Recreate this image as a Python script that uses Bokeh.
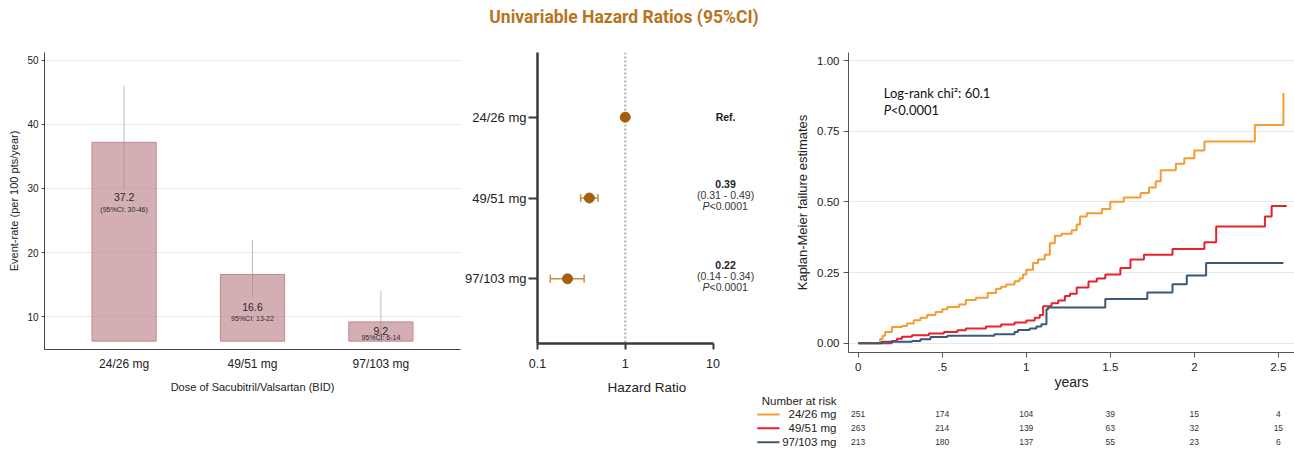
from bokeh.plotting import figure
from bokeh.models import (ColumnDataSource, Div, FactorRange, FixedTicker, Label, LabelSet,
                          NumeralTickFormatter, Range1d, Span, TeeHead, Whisker)
from bokeh.layouts import column, row
from bokeh.core.properties import value
from bokeh.embed import file_html
from bokeh.resources import INLINE

# ---------------- data ----------------
TITLE = "Univariable Hazard Ratios (95%CI)"
doses = ["24/26 mg", "49/51 mg", "97/103 mg"]

# panel A: event rates
event_rate = [37.2, 16.6, 9.2]
rate_ci_lo = [30, 13, 6]
rate_ci_hi = [46, 22, 14]
rate_ci_text = ["(95%CI: 30-46)", "95%CI: 13-22", "95%CI: 6-14"]
rate_ticks = [10, 20, 30, 40, 50]
rate_xlabel = "Dose of Sacubitril/Valsartan (BID)"
rate_ylabel = "Event-rate (per 100 pts/year)"

# panel B: hazard ratios
hr = [1.0, 0.39, 0.22]
hr_text = ["Ref.", "0.39", "0.22"]
hr_lo = [0.31, 0.14]          # for doses[1:]
hr_hi = [0.49, 0.34]
hr_ci_text = ["(0.31 - 0.49)", "(0.14 - 0.34)"]
hr_p_text = ["<0.0001", "<0.0001"]
hr_ticks = [0.1, 1, 10]
hr_tick_labels = ["0.1", "1", "10"]
hr_xlabel = "Hazard Ratio"

# panel C: Kaplan-Meier failure estimates
km_t_2426 = [0, 0.13, 0.145, 0.16, 0.20, 0.26, 0.29, 0.33, 0.37, 0.41, 0.46, 0.50, 0.53,
             0.60, 0.64, 0.70, 0.77, 0.82, 0.85, 0.88, 0.93, 0.96, 0.98, 1.00, 1.04, 1.07,
             1.11, 1.14, 1.17, 1.21, 1.27, 1.30, 1.32, 1.36, 1.45, 1.50, 1.58, 1.68, 1.73,
             1.77, 1.80, 1.89, 1.94, 2.00, 2.06, 2.36, 2.53]
km_f_2426 = [0, 0.015, 0.026, 0.040, 0.057, 0.061, 0.070, 0.081, 0.090, 0.100, 0.110, 0.120,
             0.128, 0.137, 0.153, 0.161, 0.178, 0.193, 0.200, 0.208, 0.219, 0.229, 0.243,
             0.260, 0.284, 0.296, 0.313, 0.354, 0.380, 0.387, 0.400, 0.420, 0.448, 0.460,
             0.475, 0.501, 0.516, 0.532, 0.551, 0.573, 0.612, 0.635, 0.655, 0.682, 0.714,
             0.772, 0.886]
km_t_4951 = [0, 0.20, 0.23, 0.26, 0.32, 0.42, 0.51, 0.59, 0.64, 0.76, 0.85, 0.93, 1.00,
             1.05, 1.08, 1.10, 1.15, 1.19, 1.23, 1.26, 1.30, 1.37, 1.42, 1.47, 1.56, 1.62,
             1.70, 1.87, 2.06, 2.13, 2.42, 2.46, 2.55]
km_f_4951 = [0, 0.008, 0.016, 0.023, 0.028, 0.034, 0.040, 0.046, 0.052, 0.059, 0.066, 0.073,
             0.080, 0.090, 0.100, 0.131, 0.141, 0.151, 0.167, 0.175, 0.197, 0.218, 0.229,
             0.243, 0.266, 0.296, 0.313, 0.333, 0.357, 0.413, 0.448, 0.486, 0.486]
km_t_97103 = [0, 0.14, 0.32, 0.37, 0.43, 0.53, 0.81, 0.93, 0.95, 1.02, 1.06, 1.09, 1.12,
              1.13, 1.47, 1.72, 1.87, 1.955, 2.07, 2.53]
km_f_97103 = [0, 0.005, 0.008, 0.014, 0.022, 0.026, 0.032, 0.040, 0.047, 0.052, 0.059, 0.067,
              0.120, 0.126, 0.156, 0.179, 0.209, 0.240, 0.284, 0.284]
km_xticks = [0, 0.5, 1, 1.5, 2, 2.5]
km_xtick_labels = ["0", ".5", "1", "1.5", "2", "2.5"]
km_yticks = [0, 0.25, 0.5, 0.75, 1.0]
km_xlabel = "years"
km_ylabel = "Kaplan-Meier failure estimates"
logrank_chi2 = 60.1
logrank_p = "<0.0001"

risk_times = [0, 0.5, 1, 1.5, 2, 2.5]
risk_2426 = [251, 174, 104, 39, 15, 4]
risk_4951 = [263, 214, 139, 63, 32, 15]
risk_97103 = [213, 180, 137, 55, 23, 6]
risk_header = "Number at risk"

# ---------------- style / layout ----------------
FONT = "Liberation Sans"
AX = "#444444"
BAR_BASE = 6.2
RATE_LABEL_Y = [28.6, 11.5, 7.8]
RATE_CI_Y = [26.7, 9.75, 6.7]
HR_TXT_X = 13.9
KM_COLORS = ["#F49B33", "#E5232B", "#3A5878"]
BROWN = "#A65E0C"
LEG_X0, LEG_X1, RISK_LABEL_X = -0.60, -0.468, -0.129


def base_fig(**kw):
    p = figure(output_backend="svg", toolbar_location=None, **kw)
    p.outline_line_color = None
    return p


def style_axes(p):
    p.axis.major_label_text_font = FONT
    p.axis.axis_label_text_font = FONT
    p.axis.axis_label_text_font_style = "normal"
    p.axis.minor_tick_line_color = None


# ---------- panel A ----------
p1 = base_fig(width=462, height=440,
              x_range=FactorRange(factors=doses, range_padding=0.12, range_padding_units="absolute"),
              y_range=Range1d(4.9, 51.2),
              min_border_left=44, min_border_right=2, min_border_top=22, min_border_bottom=121)
style_axes(p1)
p1.xgrid.grid_line_color = None
p1.ygrid.grid_line_color = "#EAEAEA"
p1.yaxis.ticker = FixedTicker(ticks=rate_ticks)
p1.axis.axis_line_color = AX
p1.axis.major_tick_line_color = AX
p1.yaxis.major_tick_out = 3
p1.yaxis.major_tick_in = 0
p1.yaxis.major_label_standoff = 3
p1.yaxis.major_label_text_font_size = "10px"
p1.yaxis.axis_label = rate_ylabel
p1.yaxis.axis_label_text_font_size = "11px"
p1.yaxis.axis_label_standoff = 4
p1.xaxis.major_tick_out = 0
p1.xaxis.major_tick_in = 0
p1.xaxis.major_label_standoff = 7
p1.xaxis.major_label_text_font_size = "12px"
p1.xaxis.axis_label = rate_xlabel
p1.xaxis.axis_label_text_font_size = "11px"
p1.xaxis.axis_label_standoff = 7
p1.axis.major_label_text_color = "#222222"
p1.axis.axis_label_text_color = "#222222"

p1.segment(x0=doses, y0=rate_ci_lo, x1=doses, y1=rate_ci_hi, line_color="#BDBDBD", line_width=1)
p1.vbar(x=doses, top=event_rate, bottom=BAR_BASE, width=0.5,
        fill_color="#B67A82", fill_alpha=0.6, line_color="#C08890", line_width=1)
p1.text(x=doses, y=RATE_LABEL_Y, text=[f"{v}" for v in event_rate],
        text_align="center", text_baseline="middle", text_font=value(FONT),
        text_font_size="10.5px", text_color="#2a2a2a")
p1.text(x=doses, y=RATE_CI_Y, text=rate_ci_text,
        text_align="center", text_baseline="middle", text_font=value(FONT),
        text_font_size="7px", text_color="#2a2a2a")

# ---------- panel B ----------
p2 = base_fig(width=294, height=440, x_axis_type="log", x_range=Range1d(0.1, 31.3),
              y_range=FactorRange(factors=doses[::-1], range_padding=0.3, range_padding_units="absolute"),
              min_border_left=74, min_border_right=0, min_border_top=22, min_border_bottom=127)
style_axes(p2)
p2.grid.visible = False
p2.xaxis.ticker = FixedTicker(ticks=hr_ticks)
p2.xaxis.bounds = (hr_ticks[0], hr_ticks[-1])
p2.xaxis.major_label_overrides = dict(zip(hr_ticks, hr_tick_labels))
p2.axis.axis_line_color = "#3a3a3a"
p2.axis.axis_line_width = 2.5
p2.axis.major_tick_line_color = "#3a3a3a"
p2.axis.major_tick_line_width = 2
p2.axis.major_tick_in = 0
p2.xaxis.major_tick_out = 6
p2.xaxis.major_label_standoff = 9
p2.xaxis.major_label_text_font_size = "12.5px"
p2.xaxis.axis_label = hr_xlabel
p2.xaxis.axis_label_text_font_size = "13.5px"
p2.xaxis.axis_label_standoff = 9
p2.yaxis.major_tick_out = 9
p2.yaxis.major_label_standoff = 2
p2.yaxis.major_label_text_font_size = "13px"
p2.axis.major_label_text_color = "#222222"
p2.axis.axis_label_text_color = "#222222"

p2.add_layout(Span(location=1, dimension="height", line_color="#BDBDBD",
                   line_width=2.5, line_dash="2 2", level="underlay"))
err_src = ColumnDataSource(dict(y=doses[1:], lo=hr_lo, hi=hr_hi))
p2.add_layout(Whisker(source=err_src, base="y", lower="lo", upper="hi", dimension="width",
                      line_color="#C98B45", line_width=1.5,
                      lower_head=TeeHead(size=8, line_color="#C98B45", line_width=1.5),
                      upper_head=TeeHead(size=8, line_color="#C98B45", line_width=1.5)))
p2.scatter(x=hr, y=doses, size=10, fill_color=BROWN, line_color=BROWN)

hr_src = ColumnDataSource(dict(x=[HR_TXT_X] * 3, y=doses, t=hr_text, dy=[0, 14, 14]))
p2.add_layout(LabelSet(source=hr_src, x="x", y="y", text="t", y_offset="dy",
                       text_align="center", text_baseline="middle", text_font=value(FONT),
                       text_font_size="10.5px", text_font_style="bold", text_color="#222222"))
ci_src = ColumnDataSource(dict(x=[HR_TXT_X] * 2, y=doses[1:], t=hr_ci_text))
p2.add_layout(LabelSet(source=ci_src, x="x", y="y", text="t", y_offset=3,
                       text_align="center", text_baseline="middle", text_font=value(FONT),
                       text_font_size="10.5px", text_color="#333333"))
pp_src = ColumnDataSource(dict(x=[HR_TXT_X] * 2, y=doses[1:], t=hr_p_text, p=["P"] * 2))
p2.add_layout(LabelSet(source=pp_src, x="x", y="y", text="p", y_offset=-8, x_offset=-16,
                       text_align="right", text_baseline="middle", text_font=value(FONT),
                       text_font_size="10.5px", text_font_style="italic", text_color="#333333"))
p2.add_layout(LabelSet(source=pp_src, x="x", y="y", text="t", y_offset=-8, x_offset=-16,
                       text_align="left", text_baseline="middle", text_font=value(FONT),
                       text_font_size="10.5px", text_color="#333333"))

# ---------- panel C ----------
p3 = base_fig(width=538, height=362, x_range=Range1d(-0.058, 2.596), y_range=Range1d(-0.033, 1.029),
              min_border_left=92, min_border_right=0, min_border_top=22, min_border_bottom=39)
style_axes(p3)
p3.xgrid.grid_line_color = None
p3.ygrid.grid_line_color = "#E4EBF0"
p3.xaxis.ticker = FixedTicker(ticks=km_xticks)
p3.xaxis.major_label_overrides = dict(zip(km_xticks, km_xtick_labels))
p3.yaxis.ticker = FixedTicker(ticks=km_yticks)
p3.yaxis.formatter = NumeralTickFormatter(format="0.00")
p3.axis.axis_line_color = "#555555"
p3.axis.major_tick_line_color = "#555555"
p3.axis.major_tick_in = 0
p3.axis.major_tick_out = 5
p3.axis.major_label_text_font_size = "11.5px"
p3.axis.major_label_text_color = "#222222"
p3.axis.axis_label_text_color = "#222222"
p3.yaxis.major_label_standoff = 4
p3.yaxis.axis_label = km_ylabel
p3.yaxis.axis_label_text_font_size = "13px"
p3.yaxis.axis_label_standoff = 4
p3.xaxis.major_label_standoff = 5
p3.xaxis.axis_label = km_xlabel
p3.xaxis.axis_label_text_font_size = "14px"
p3.xaxis.axis_label_standoff = 0

for t, f, c in zip([km_t_2426, km_t_4951, km_t_97103],
                   [km_f_2426, km_f_4951, km_f_97103], KM_COLORS):
    p3.step(x=t, y=f, mode="after", line_color=c, line_width=2)

p3.add_layout(Label(x=0.152, y=0.886, text=f"Log-rank chi\u00b2: {logrank_chi2}",
                    text_font="Lato", text_font_size="13px", text_baseline="middle",
                    text_color="#111111"))
p3.add_layout(Label(x=0.152, y=0.824, text="P", text_font="Lato", text_font_size="13px",
                    text_font_style="italic", text_baseline="middle", text_color="#111111"))
p3.add_layout(Label(x=0.152, y=0.824, x_offset=7, text=logrank_p, text_font="Lato",
                    text_font_size="13px", text_baseline="middle", text_color="#111111"))

# ---------- number at risk ----------
p4 = base_fig(width=538, height=78, x_range=Range1d(-0.605, 2.596), y_range=Range1d(5.036, -0.576),
              x_axis_location=None, y_axis_location=None, min_border=0)
for g in p4.grid:
    g.visible = False
p4.text(x=[RISK_LABEL_X], y=[0], text=[risk_header], text_align="right", text_baseline="middle",
        text_font=value(FONT), text_font_size="11.5px", text_color="#222222")
rows_y = [1, 2, 3]
p4.segment(x0=[LEG_X0] * 3, x1=[LEG_X1] * 3, y0=rows_y, y1=rows_y, line_color=KM_COLORS, line_width=2)
p4.text(x=[RISK_LABEL_X] * 3, y=rows_y, text=doses, text_align="right", text_baseline="middle",
        text_font=value(FONT), text_font_size="11.5px", text_color="#222222")
for ry, counts in zip(rows_y, [risk_2426, risk_4951, risk_97103]):
    p4.text(x=risk_times, y=[ry] * len(risk_times), text=[str(c) for c in counts],
            text_align="center", text_baseline="middle", text_font=value(FONT),
            text_font_size="8.5px", text_color="#333333")

title = Div(text=TITLE, width=1248, height=30, margin=(0, 0, 0, 0),
            styles={"text-align": "center", "font-family": "Roboto, sans-serif",
                    "font-weight": "bold", "font-size": "17.5px",
                    "color": "#B8741C", "line-height": "35px"})

layout = column(title, row(column(p1), column(p2), column(p3, row(p4))))
open("out.html", "w").write(file_html(layout, INLINE))
